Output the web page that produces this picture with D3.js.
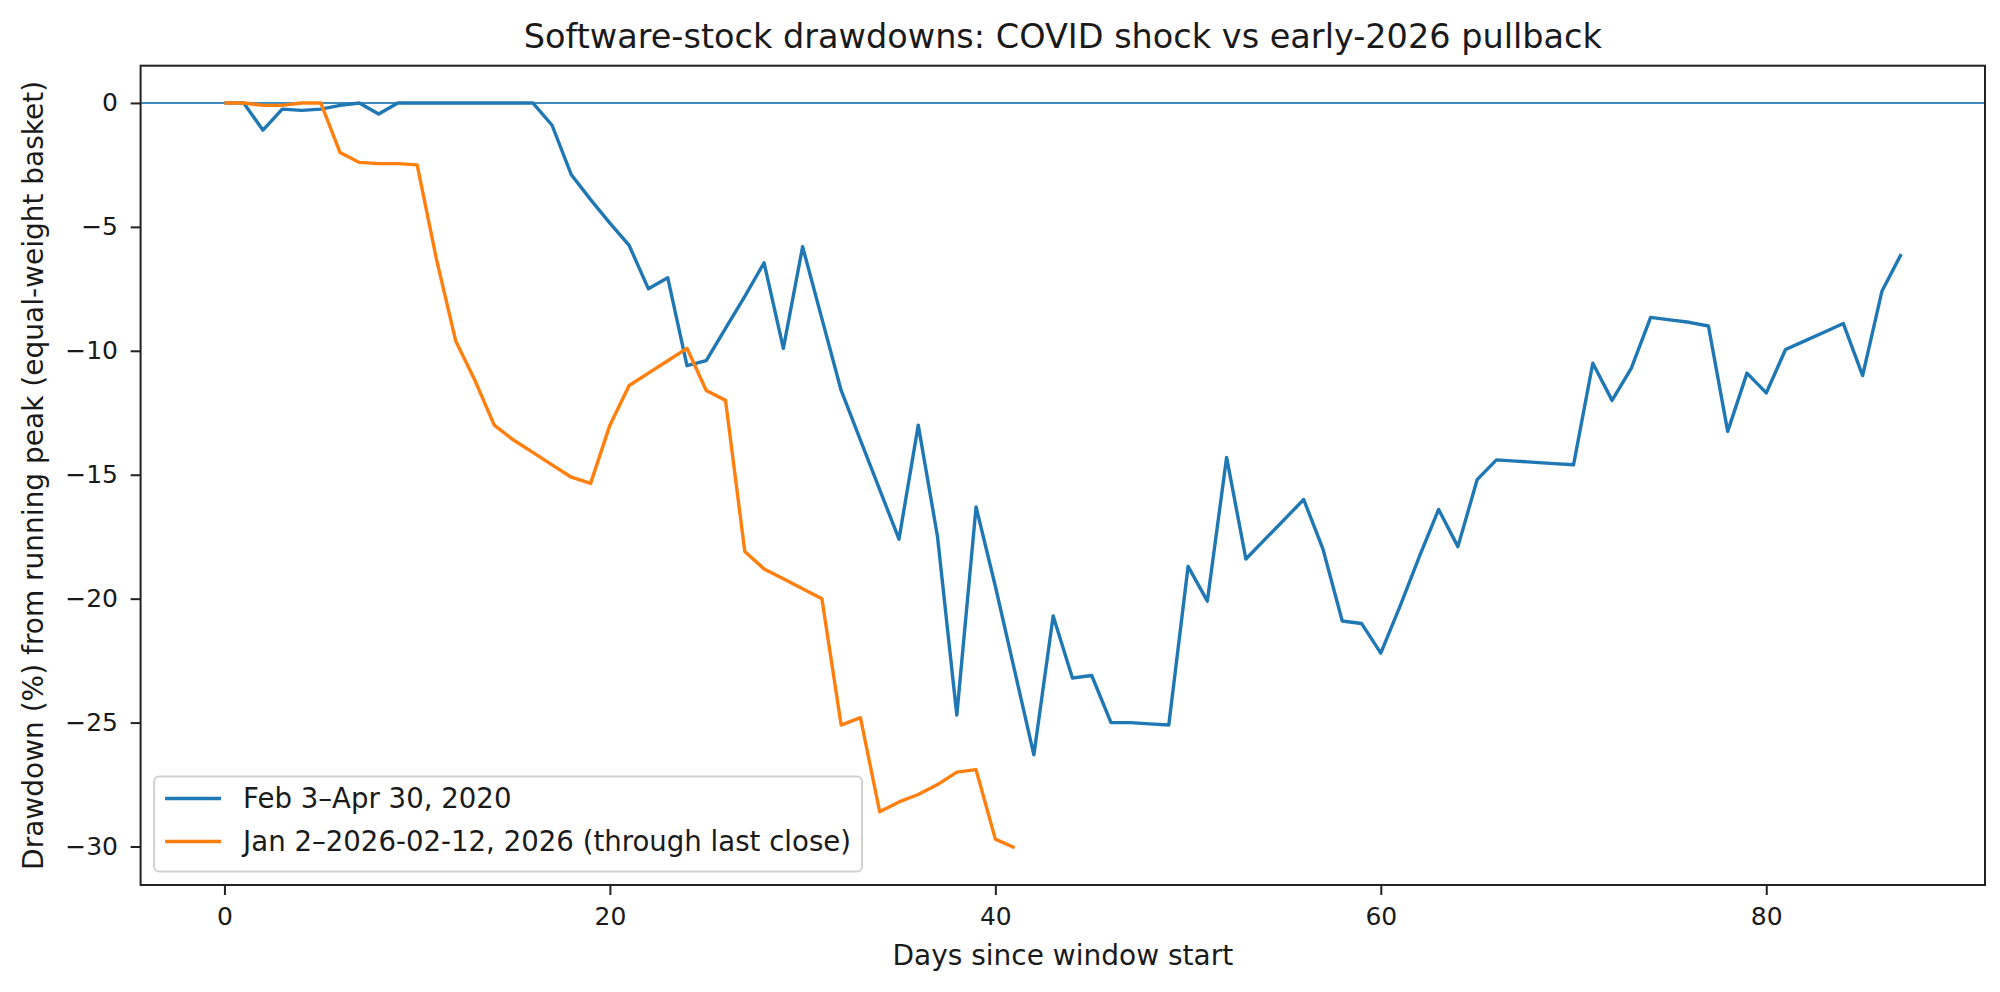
<!DOCTYPE html>
<html>
<head>
<meta charset="utf-8">
<script src="https://cdn.jsdelivr.net/npm/d3@7"></script>
<style>
  body { margin: 0; background: #fff; }
  text { font-family: "DejaVu Sans", sans-serif; fill: #1a1a1a; }
</style>
</head>
<body>
<svg id="chart"></svg>
<script>
// Drawdown (%) from running peak, one value per trading day since window start
const covidDrawdown = [
    0, 0, -1.1, -0.25, -0.3, -0.25, -0.1, 0, -0.45, 0,
    0, 0, 0, 0, 0, 0, 0, -0.9, -2.9, -3.9,
    -4.85, -5.75, -7.5, -7.05, -10.6, -10.4, -9.1, -7.8, -6.45, -9.9,
    -5.8, -8.7, -11.6, -13.6, -15.6, -17.6, -13.0, -17.5, -24.7, -16.3,
    -19.5, -22.9, -26.3, -20.7, -23.2, -23.1, -25.0, -25.0, -25.05, -25.1,
    -18.7, -20.1, -14.3, -18.4, -17.6, -16.8, -16.0, -18.0, -20.9, -21.0,
    -22.2, -20.3, -18.3, -16.4, -17.9, -15.2, -14.4, -14.45, -14.5, -14.55,
    -14.6, -10.5, -12.0, -10.7, -8.65, -8.75, -8.85, -9.0, -13.25, -10.9,
    -11.7, -9.95, -9.6, -9.25, -8.9, -11.0, -7.6, -6.1
];
const pullbackDrawdown = [
    0, 0, -0.1, -0.1, 0, 0, -2.0, -2.4, -2.45, -2.45,
    -2.5, -6.3, -9.6, -11.2, -13.0, -13.6, -14.1, -14.6, -15.1, -15.35,
    -13.0, -11.4, -10.9, -10.4, -9.9, -11.6, -12.0, -18.1, -18.8, -19.2,
    -19.6, -20.0, -25.1, -24.8, -28.6, -28.2, -27.9, -27.5, -27.0, -26.9,
    -29.7, -30.05
];
const seriesLabels = ["Feb 3\u2013Apr 30, 2020", "Jan 2\u20132026-02-12, 2026 (through last close)"];
const seriesColors = ["#1f77b4", "#ff7f0e"];
const xTicks = [0, 20, 40, 60, 80];
const yTicks = [0, -5, -10, -15, -20, -25, -30];

class DrawdownChart {

    constructor(_config, _series) {
        this.config = {
            parentElement: _config.parentElement,
            containerWidth: 2000,
            containerHeight: 992,
            margin: {top: 65.7, right: 15, bottom: 107, left: 140.6}
        }
        this.series = _series;
        this.initVis();
    }

    initVis() {
        let vis = this;

        vis.width = vis.config.containerWidth - vis.config.margin.left - vis.config.margin.right;
        vis.height = vis.config.containerHeight - vis.config.margin.top - vis.config.margin.bottom;

        vis.svg = d3.select(vis.config.parentElement)
            .attr('width', vis.config.containerWidth)
            .attr('height', vis.config.containerHeight);

        vis.chart = vis.svg.append('g')
            .attr('transform', `translate(${vis.config.margin.left},${vis.config.margin.top})`);

        // matplotlib-like 5% margins around the data
        let maxLen = d3.max(vis.series, s => s.values.length) - 1;
        let allVals = vis.series.flatMap(s => s.values);
        let yMin = d3.min(allVals), yMax = d3.max(allVals);
        let xPad = maxLen * 0.05, yPad = (yMax - yMin) * 0.05;

        vis.xScale = d3.scaleLinear()
            .domain([-xPad, maxLen + xPad])
            .range([0, vis.width]);

        vis.yScale = d3.scaleLinear()
            .domain([yMin - yPad, yMax + yPad])
            .range([vis.height, 0]);

        vis.xAxis = d3.axisBottom(vis.xScale).tickValues(xTicks).tickSize(10).tickPadding(12).tickFormat(d3.format('d'));
        vis.yAxis = d3.axisLeft(vis.yScale).tickValues(yTicks).tickSize(10).tickPadding(12.6).tickFormat(d3.format('d'));

        vis.xAxisG = vis.chart.append('g')
            .attr('class', 'axis x-axis')
            .attr('transform', `translate(0,${vis.height})`);

        vis.yAxisG = vis.chart.append('g')
            .attr('class', 'axis y-axis');

        vis.renderVis();
    }

    renderVis() {
        let vis = this;

        // zero reference line
        vis.chart.append('line')
            .attr('x1', 0)
            .attr('x2', vis.width)
            .attr('y1', vis.yScale(0))
            .attr('y2', vis.yScale(0))
            .attr('stroke', '#1f77b4')
            .attr('stroke-opacity', 0.85)
            .attr('stroke-width', 2);

        let line = d3.line()
            .x((d, i) => vis.xScale(i))
            .y(d => vis.yScale(d));

        vis.chart.selectAll('.series')
            .data(vis.series)
            .join('path')
            .attr('class', 'series')
            .attr('d', d => line(d.values))
            .attr('fill', 'none')
            .attr('stroke', d => d.color)
            .attr('stroke-width', 3.4)
            .attr('stroke-linejoin', 'round');

        vis.xAxisG.call(vis.xAxis);
        vis.yAxisG.call(vis.yAxis);

        vis.chart.selectAll('.axis .domain').remove();
        vis.chart.selectAll('.axis .tick line').attr('stroke', '#222').attr('stroke-width', 2);
        vis.chart.selectAll('.axis .tick text').attr('font-size', 25).attr('fill', '#1a1a1a');

        // axes frame
        vis.chart.append('rect')
            .attr('width', vis.width)
            .attr('height', vis.height)
            .attr('fill', 'none')
            .attr('stroke', '#222')
            .attr('stroke-width', 2);

        // legend, lower left
        let legend = vis.chart.append('g')
            .attr('transform', `translate(13.5,${vis.height - 13.5 - 95})`);

        let legendBox = legend.append('rect')
            .attr('height', 95)
            .attr('rx', 5)
            .attr('fill', 'rgba(255,255,255,0.8)')
            .attr('stroke', '#d0d0d0')
            .attr('stroke-width', 2);

        let rows = legend.selectAll('.legend-row')
            .data(vis.series)
            .join('g')
            .attr('class', 'legend-row')
            .attr('transform', (d, i) => `translate(0,${22 + i * 43})`);

        rows.append('line')
            .attr('x1', 11)
            .attr('x2', 67)
            .attr('stroke', d => d.color)
            .attr('stroke-width', 3.4);

        rows.append('text')
            .attr('x', 89)
            .attr('dy', '0.35em')
            .attr('font-size', 27.6)
            .text(d => d.label);

        let textW = d3.max(rows.selectAll('text').nodes(), n => n.getComputedTextLength());
        legendBox.attr('width', 89 + textW + 11);

        // titles
        vis.svg.append('text')
            .attr('x', vis.config.margin.left + vis.width / 2)
            .attr('y', 48)
            .attr('text-anchor', 'middle')
            .attr('font-size', 33.5)
            .text('Software-stock drawdowns: COVID shock vs early-2026 pullback');

        vis.svg.append('text')
            .attr('x', vis.config.margin.left + vis.width / 2)
            .attr('y', 965)
            .attr('text-anchor', 'middle')
            .attr('font-size', 28)
            .text('Days since window start');

        vis.svg.append('text')
            .attr('transform', `translate(42.5,${vis.config.margin.top + vis.height / 2}) rotate(-90)`)
            .attr('text-anchor', 'middle')
            .attr('font-size', 28)
            .text('Drawdown (%) from running peak (equal-weight basket)');
    }
}

let chart = new DrawdownChart({parentElement: '#chart'}, [
    {label: seriesLabels[0], color: seriesColors[0], values: covidDrawdown},
    {label: seriesLabels[1], color: seriesColors[1], values: pullbackDrawdown}
]);
</script>
</body>
</html>
